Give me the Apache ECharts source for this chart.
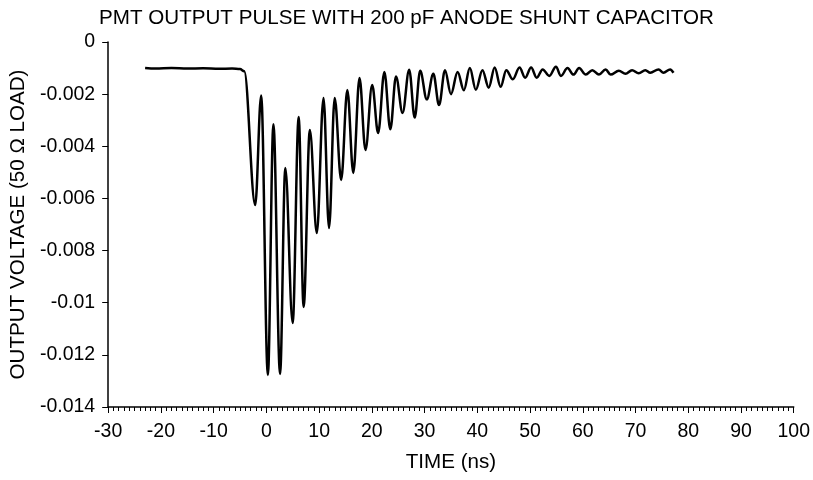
<!DOCTYPE html>
<html>
<head>
<meta charset="utf-8">
<script src="https://cdn.jsdelivr.net/npm/echarts@6/dist/echarts.min.js"></script>
<style>html,body{margin:0;padding:0;background:#fff;}#chart{width:813px;height:480px;}</style>
</head>
<body>
<div id="chart"></div>
<script>
const chartTitle = 'PMT OUTPUT PULSE WITH 200 pF ANODE SHUNT CAPACITOR';
const xAxisName = 'TIME (ns)';
const yAxisName = 'OUTPUT VOLTAGE (50 \u03A9 LOAD)';

// time (ns) of points (mostly its peaks and troughs)
const timeNs = [-23.0, -21.0, -18.0, -15.0, -12.0, -9.0, -6.5, -5.0, -4.2,
  -2.12, -0.99, 0.28, 1.33, 2.59, 3.59, 4.98, 6.12, 7.06, 8.24, 9.56, 10.83,
  11.88, 12.95, 14.18, 15.35, 16.48, 17.66, 18.79, 20.06, 21.19, 22.37, 23.5,
  24.58, 25.82, 27.08, 28.12, 29.16, 30.42, 31.66, 32.74, 33.87, 35.0, 36.26,
  37.45, 38.58, 39.71, 40.97, 42.16, 43.29, 44.42, 45.49, 46.73, 48.0, 49.07,
  50.2, 51.26, 52.39, 53.65, 54.91, 55.85, 57.1, 58.23, 59.3, 60.56, 61.8,
  63.07, 64.33, 65.27, 66.83, 68.1, 69.34, 70.6, 71.86, 72.8, 74.37, 75.3,
  76.57, 77.2];

// output voltage (V) at those times
const voltage = [-0.00100, -0.00102, -0.00100, -0.00102, -0.00101, -0.00103, -0.00102, -0.00104, -0.00112,
  -0.00625, -0.00205, -0.01277, -0.00315, -0.01273, -0.00483, -0.01078, -0.00288, -0.01016, -0.00338, -0.00733, -0.00215,
  -0.00713, -0.00215, -0.00529, -0.00184, -0.00502, -0.00138, -0.00414, -0.00165, -0.00349, -0.00115, -0.00335,
  -0.00132, -0.00272, -0.00106, -0.00290, -0.00110, -0.00220, -0.00122, -0.00242, -0.00108, -0.00200, -0.00115,
  -0.00185, -0.00100, -0.00183, -0.00108, -0.00175, -0.00098, -0.00172, -0.00108, -0.00143, -0.00098, -0.00137,
  -0.00098, -0.00137, -0.00105, -0.00130, -0.00095, -0.00130, -0.00100, -0.00125, -0.00100, -0.00125, -0.00108,
  -0.00125, -0.00105, -0.00125, -0.00110, -0.00122, -0.00108, -0.00120, -0.00108, -0.00118, -0.00105, -0.00118,
  -0.00105, -0.00118];

const xTickLabels = ['-30','-20','-10','0','10','20','30','40','50','60','70','80','90','100'];
const yTickLabels = ['-0.014','-0.012','-0.01','-0.008','-0.006','-0.004','-0.002','0'];

const FONT = '"Liberation Sans", Arial, sans-serif';
const chart = echarts.init(document.getElementById('chart'), null, {renderer: 'canvas'});
const seriesData = timeNs.map((t, i) => [t, voltage[i]]);

chart.setOption({
  animation: false,
  backgroundColor: '#ffffff',
  title: {
    text: chartTitle,
    left: 'center',
    top: 3,
    textStyle: {fontFamily: FONT, fontSize: 20.6, fontWeight: 'normal', color: '#000'}
  },
  grid: {left: 106, right: 17, top: 42, bottom: 73},
  xAxis: {
    type: 'value',
    min: -30, max: 100, interval: 10,
    name: xAxisName,
    nameLocation: 'middle',
    nameGap: 45,
    nameTextStyle: {fontFamily: FONT, fontSize: 20.6, color: '#000'},
    axisLine: {show: true, onZero: false, lineStyle: {color: '#000', width: 1.5}},
    axisTick: {show: true, inside: false, length: 6, lineStyle: {color: '#000', width: 1}},
    minorTick: {show: true, splitNumber: 10, length: 4, lineStyle: {color: '#000', width: 1}},
    splitLine: {show: false},
    axisLabel: {
      margin: 15, fontFamily: FONT, fontSize: 19.5, color: '#000',
      formatter: (v) => xTickLabels[Math.round((v + 30) / 10)]
    }
  },
  yAxis: {
    type: 'value',
    min: -0.014, max: 0, interval: 0.002,
    name: yAxisName,
    nameLocation: 'middle',
    nameRotate: 90,
    nameGap: 71,
    nameTextStyle: {fontFamily: FONT, fontSize: 20.6, color: '#000'},
    axisLine: {show: true, onZero: false, lineStyle: {color: '#000', width: 1.5}},
    axisTick: {show: true, inside: false, length: 6, lineStyle: {color: '#000', width: 1}},
    splitLine: {show: false},
    axisLabel: {
      margin: 13, fontFamily: FONT, fontSize: 19.5, color: '#000',
      formatter: (v) => yTickLabels[Math.round((v + 0.014) / 0.002)]
    }
  },
  series: [{
    type: 'line',
    data: seriesData,
    showSymbol: false,
    smooth: 0.36,
    smoothMonotone: 'x',
    lineStyle: {color: '#000', width: 2.5},
    z: 3
  }]
});
</script>
</body>
</html>
